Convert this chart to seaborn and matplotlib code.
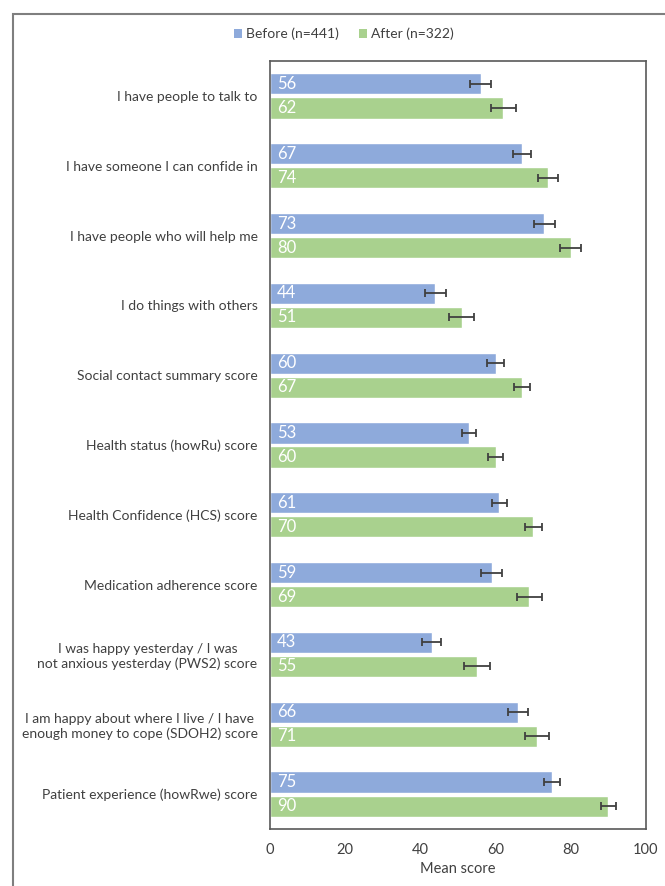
import pandas as pd
import seaborn as sns
import numpy as np
import matplotlib.pyplot as plt
from matplotlib.patches import Rectangle, Patch

categories = [
    'I have people to talk to',
    'I have someone I can confide in',
    'I have people who will help me',
    'I do things with others',
    'Social contact summary score',
    'Health status (howRu) score',
    'Health Confidence (HCS) score',
    'Medication adherence score',
    'I was happy yesterday / I was\nnot anxious yesterday (PWS2) score',
    'I am happy about where I live / I have\nenough money to cope (SDOH2) score',
    'Patient experience (howRwe) score',
]
before = [56, 67, 73, 44, 60, 53, 61, 59, 43, 66, 75]
after = [62, 74, 80, 51, 67, 60, 70, 69, 55, 71, 90]
before_err = [2.9, 2.5, 2.8, 2.9, 2.2, 1.9, 2.0, 2.8, 2.5, 2.6, 2.1]
after_err = [3.3, 2.7, 2.8, 3.3, 2.1, 2.0, 2.3, 3.3, 3.4, 3.3, 2.1]
groups = ['Before (n=441)', 'After (n=322)']

colors = ['#8EAADB', '#A9D18E']
edge = '#595959'
txt = '#404040'

df = pd.DataFrame({
    'item': categories * 2,
    'score': before + after,
    'group': [groups[0]] * len(categories) + [groups[1]] * len(categories),
})

sns.set_style('white')
plt.rcParams['font.family'] = ['Lato', 'DejaVu Sans']

fig = plt.figure(figsize=(6.65, 8.86), dpi=100)
ax = fig.add_axes([270 / 665, 1 - 829 / 886, 376 / 665, 768 / 886])

sns.barplot(data=df, y='item', x='score', hue='group', hue_order=groups,
            palette=colors, saturation=1, orient='h', width=0.69, gap=0.12,
            errorbar=None, legend=False, ax=ax)

errs = [before_err, after_err]
vals = [before, after]
bar_sets = list(ax.containers)
for k, cont in enumerate(bar_sets):
    ys = [b.get_y() + b.get_height() / 2 for b in cont]
    ax.errorbar(vals[k], ys, xerr=errs[k], fmt='none', ecolor='#404040',
                elinewidth=1.3, capsize=3, capthick=1.3, zorder=5)
    for v, y in zip(vals[k], ys):
        ax.text(1.8, y, str(v), color='white', fontsize=12, va='center', ha='left')

ax.set_xlim(0, 100)
ax.set_ylim(len(categories) - 0.5, -0.5)
ax.set_xticks(range(0, 101, 20))
ax.set_xlabel('Mean score', fontsize=10.5, color=txt, labelpad=4)
ax.set_ylabel('')
ax.tick_params(axis='both', length=0, labelsize=10.5, colors=txt)
ax.tick_params(axis='y', pad=9, labelsize=10)
ax.tick_params(axis='x', pad=10)
for lab in ax.get_yticklabels():
    lab.set_multialignment('center')
for s in ax.spines.values():
    s.set_visible(True)
    s.set_color(edge)
    s.set_linewidth(1.2)

handles = [Patch(facecolor=c, edgecolor='none') for c in colors]
fig.legend(handles, groups, loc='center', bbox_to_anchor=(344 / 665, 1 - 34 / 886),
           ncol=2, frameon=False, fontsize=10, handlelength=0.6,
           handleheight=0.6, handletextpad=0.3, columnspacing=1.4,
           labelcolor=txt)

fig.patches.append(Rectangle((13 / 665, -0.1), 1.2, 1.1 - 14 / 886,
                             transform=fig.transFigure, fill=False,
                             edgecolor='#7f7f7f', linewidth=1.5))

fig.savefig('out.png', dpi=100)
